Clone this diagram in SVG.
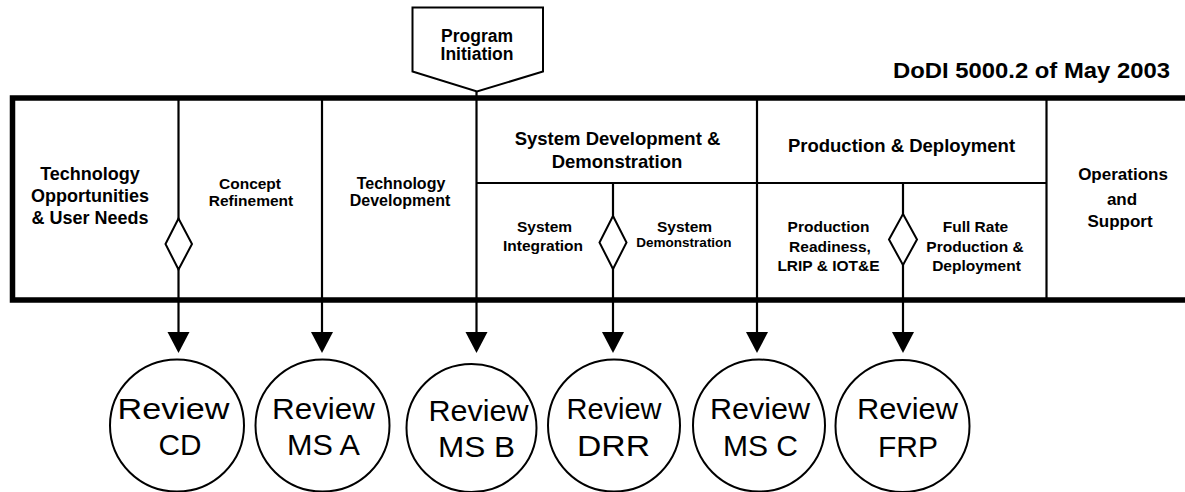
<svg xmlns="http://www.w3.org/2000/svg" width="1185" height="492" viewBox="0 0 1185 492">
<style>
.b{font-family:"Liberation Sans",Arial,sans-serif;font-weight:bold;fill:#000;text-anchor:middle}
.r{font-family:"Liberation Sans",Arial,sans-serif;fill:#000;text-anchor:middle;font-size:30px}
.ln{stroke:#000;stroke-width:2.2;fill:none}
.dm{stroke:#000;stroke-width:2;fill:#fff}
.cr{stroke:#000;stroke-width:2;fill:#fff}
</style>
<rect width="1185" height="492" fill="#fff"/>

<g id="program-initiation">
<path d="M412.5,7.5 H543 V71.5 L477,91.5 L412.5,71.5 Z" fill="#fff" stroke="#000" stroke-width="2"/>
<text class="b" x="477" y="42" font-size="17.5">Program</text>
<text class="b" x="477" y="60" font-size="17.5">Initiation</text>
</g>
<g id="title">
<text class="b" x="1170" y="77.5" font-size="22" style="text-anchor:end" textLength="277" lengthAdjust="spacingAndGlyphs">DoDI 5000.2 of May 2003</text>
</g>

<g id="frame">
<path d="M1190,98 H12.5 V300 H1190" fill="none" stroke="#000" stroke-width="5.5"/>
<line class="ln" x1="322" y1="98" x2="322" y2="300"/>
<line class="ln" x1="757" y1="98" x2="757" y2="300"/>
<line class="ln" x1="1046.5" y1="98" x2="1046.5" y2="300"/>
<line class="ln" x1="476.5" y1="183" x2="1046.5" y2="183"/>
</g>

<g id="phase-tech-opportunities">
<text class="b" x="90" y="180" font-size="18">Technology</text>
<text class="b" x="90" y="202" font-size="18">Opportunities</text>
<text class="b" x="90" y="224" font-size="18">&amp; User Needs</text>
</g>
<g id="phase-concept-refinement">
<text class="b" x="250" y="188.5" font-size="15.5">Concept</text>
<text class="b" x="251" y="206" font-size="15.5">Refinement</text>
</g>
<g id="phase-technology-development">
<text class="b" x="401" y="188.5" font-size="16">Technology</text>
<text class="b" x="400" y="206" font-size="16">Development</text>
</g>
<g id="phase-sdd">
<text class="b" x="617.5" y="145" font-size="18.5">System Development &amp;</text>
<text class="b" x="617" y="168" font-size="18.5">Demonstration</text>
</g>
<g id="sub-system-integration">
<text class="b" x="544.5" y="231.5" font-size="15.5">System</text>
<text class="b" x="543" y="250.5" font-size="15.5">Integration</text>
</g>
<g id="sub-system-demonstration">
<text class="b" x="684.5" y="231.5" font-size="15.5">System</text>
<text class="b" x="684" y="246.5" font-size="13.5">Demonstration</text>
</g>
<g id="phase-production-deployment">
<text class="b" x="901.5" y="152" font-size="18.5">Production &amp; Deployment</text>
</g>
<g id="sub-production-readiness">
<text class="b" x="828.5" y="232" font-size="15.5">Production</text>
<text class="b" x="830" y="251.5" font-size="15.5">Readiness,</text>
<text class="b" x="828.5" y="271" font-size="15.5">LRIP &amp; IOT&amp;E</text>
</g>
<g id="sub-full-rate">
<text class="b" x="975.5" y="232" font-size="15.5">Full Rate</text>
<text class="b" x="975" y="251.5" font-size="15.5">Production &amp;</text>
<text class="b" x="976.5" y="271" font-size="15.5">Deployment</text>
</g>
<g id="phase-operations-support">
<text class="b" x="1123" y="179.5" font-size="17">Operations</text>
<text class="b" x="1122" y="205" font-size="17">and</text>
<text class="b" x="1120" y="227" font-size="17">Support</text>
</g>

<g id="connectors">
<line class="ln" x1="178.5" y1="98" x2="178.5" y2="332"/>
<line class="ln" x1="322" y1="300" x2="322" y2="332"/>
<line class="ln" x1="476.5" y1="91.5" x2="476.5" y2="332"/>
<line class="ln" x1="613" y1="183" x2="613" y2="332"/>
<line class="ln" x1="757" y1="300" x2="757" y2="332"/>
<line class="ln" x1="903" y1="183" x2="903" y2="332"/>
<path d="M167.5,332 H189.5 L178.5,353 Z"/>
<path d="M311,332 H333 L322,353 Z"/>
<path d="M465.5,332 H487.5 L476.5,353 Z"/>
<path d="M602,332 H624 L613,353 Z"/>
<path d="M746,332 H768 L757,353 Z"/>
<path d="M892,332 H914 L903,353 Z"/>
</g>

<g id="decision-cd"><path class="dm" d="M178.5,218.5 L192,244 L178.5,269.5 L165.5,244 Z"/></g>
<g id="decision-drr"><path class="dm" d="M613,216 L626.5,242.5 L613,269 L599.5,242.5 Z"/></g>
<g id="decision-frp"><path class="dm" d="M903,214 L917,239.5 L903,265 L889,239.5 Z"/></g>

<g id="review-cd">
<ellipse class="cr" cx="177" cy="425.5" rx="67" ry="66"/>
<text class="r" x="173.5" y="419" textLength="112" lengthAdjust="spacingAndGlyphs">Review</text>
<text class="r" x="180" y="455" textLength="43" lengthAdjust="spacingAndGlyphs">CD</text>
</g>
<g id="review-ms-a">
<ellipse class="cr" cx="322.5" cy="425.5" rx="67" ry="66"/>
<text class="r" x="323.5" y="419" textLength="103" lengthAdjust="spacingAndGlyphs">Review</text>
<text class="r" x="323.5" y="455" textLength="73" lengthAdjust="spacingAndGlyphs">MS A</text>
</g>
<g id="review-ms-b">
<ellipse class="cr" cx="471.5" cy="428" rx="65" ry="64"/>
<text class="r" x="478.5" y="420.5" textLength="100" lengthAdjust="spacingAndGlyphs">Review</text>
<text class="r" x="476.5" y="456.5" textLength="77" lengthAdjust="spacingAndGlyphs">MS B</text>
</g>
<g id="review-drr">
<ellipse class="cr" cx="614" cy="425.5" rx="66" ry="66"/>
<text class="r" x="614" y="419" textLength="95" lengthAdjust="spacingAndGlyphs">Review</text>
<text class="r" x="613.5" y="455.5" textLength="73" lengthAdjust="spacingAndGlyphs">DRR</text>
</g>
<g id="review-ms-c">
<ellipse class="cr" cx="759" cy="425.5" rx="66" ry="66"/>
<text class="r" x="760" y="419" textLength="100" lengthAdjust="spacingAndGlyphs">Review</text>
<text class="r" x="760.5" y="455.5" textLength="75" lengthAdjust="spacingAndGlyphs">MS C</text>
</g>
<g id="review-frp">
<ellipse class="cr" cx="902.5" cy="426" rx="67" ry="66"/>
<text class="r" x="907.5" y="419" textLength="101" lengthAdjust="spacingAndGlyphs">Review</text>
<text class="r" x="908" y="456.5" textLength="60" lengthAdjust="spacingAndGlyphs">FRP</text>
</g>
</svg>
